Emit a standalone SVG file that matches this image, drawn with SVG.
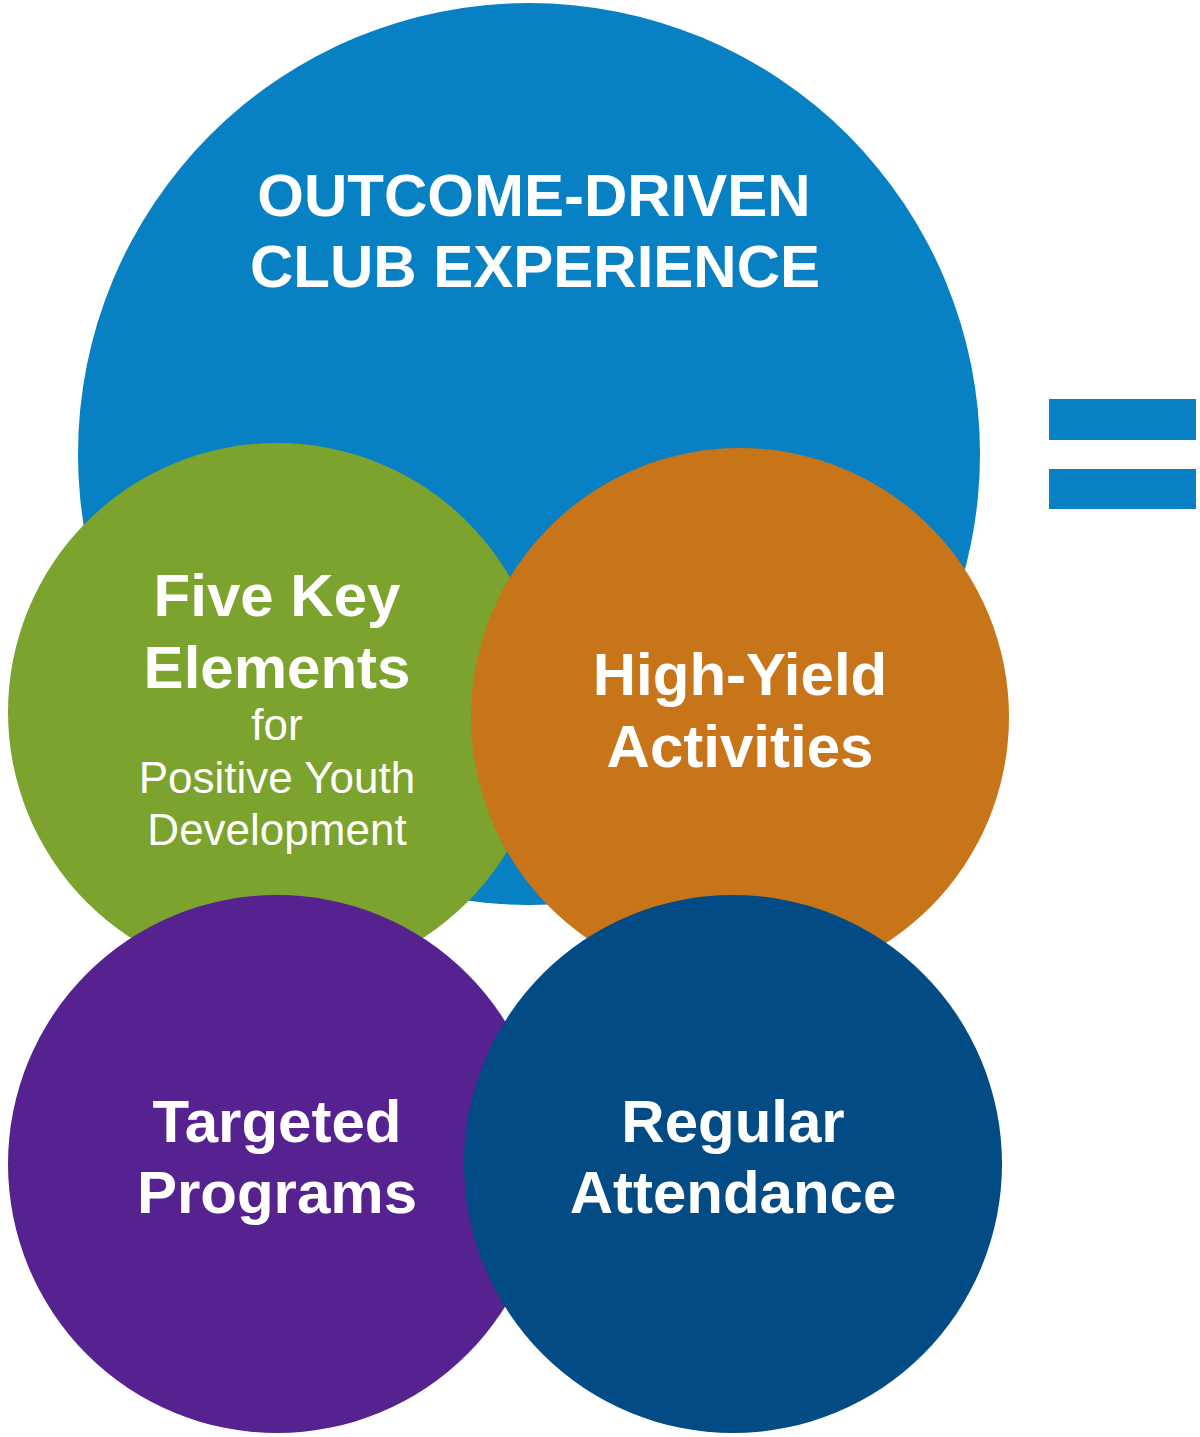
<svg xmlns="http://www.w3.org/2000/svg" width="1200" height="1437" viewBox="0 0 1200 1437">
<style>
.b{font-family:"Liberation Sans",Arial,sans-serif;font-weight:bold;font-size:60px;fill:#fff;text-anchor:middle}
.r{font-family:"Liberation Sans",Arial,sans-serif;font-size:44px;fill:#fff;text-anchor:middle}
</style>
<rect width="1200" height="1437" fill="#fff"/>
<g id="outcome">
<circle cx="529" cy="454" r="451" fill="#0880C4"/>
<text class="b" x="534" y="216">OUTCOME-DRIVEN</text>
<text class="b" x="535" y="287">CLUB EXPERIENCE</text>
</g>
<g id="five-key">
<circle cx="277" cy="712" r="269" fill="#7BA32E"/>
<text class="b" x="277" y="616">Five Key</text>
<text class="b" x="277" y="688">Elements</text>
<text class="r" x="277" y="740">for</text>
<text class="r" x="277" y="793">Positive Youth</text>
<text class="r" x="277" y="845">Development</text>
</g>
<g id="high-yield">
<circle cx="740" cy="717" r="269" fill="#C87419"/>
<text class="b" x="740" y="695">High-Yield</text>
<text class="b" x="740" y="767">Activities</text>
</g>
<g id="targeted">
<circle cx="277" cy="1164" r="269" fill="#55228F"/>
<text class="b" x="277" y="1142">Targeted</text>
<text class="b" x="277" y="1213">Programs</text>
</g>
<g id="regular">
<circle cx="733" cy="1164" r="269" fill="#024B85"/>
<text class="b" x="733" y="1142">Regular</text>
<text class="b" x="733" y="1213">Attendance</text>
</g>
<g id="equals">
<rect x="1049" y="399" width="147" height="41" fill="#0880C4"/>
<rect x="1049" y="469" width="147" height="40" fill="#0880C4"/>
</g>
<g id="connectors"></g>
</svg>
